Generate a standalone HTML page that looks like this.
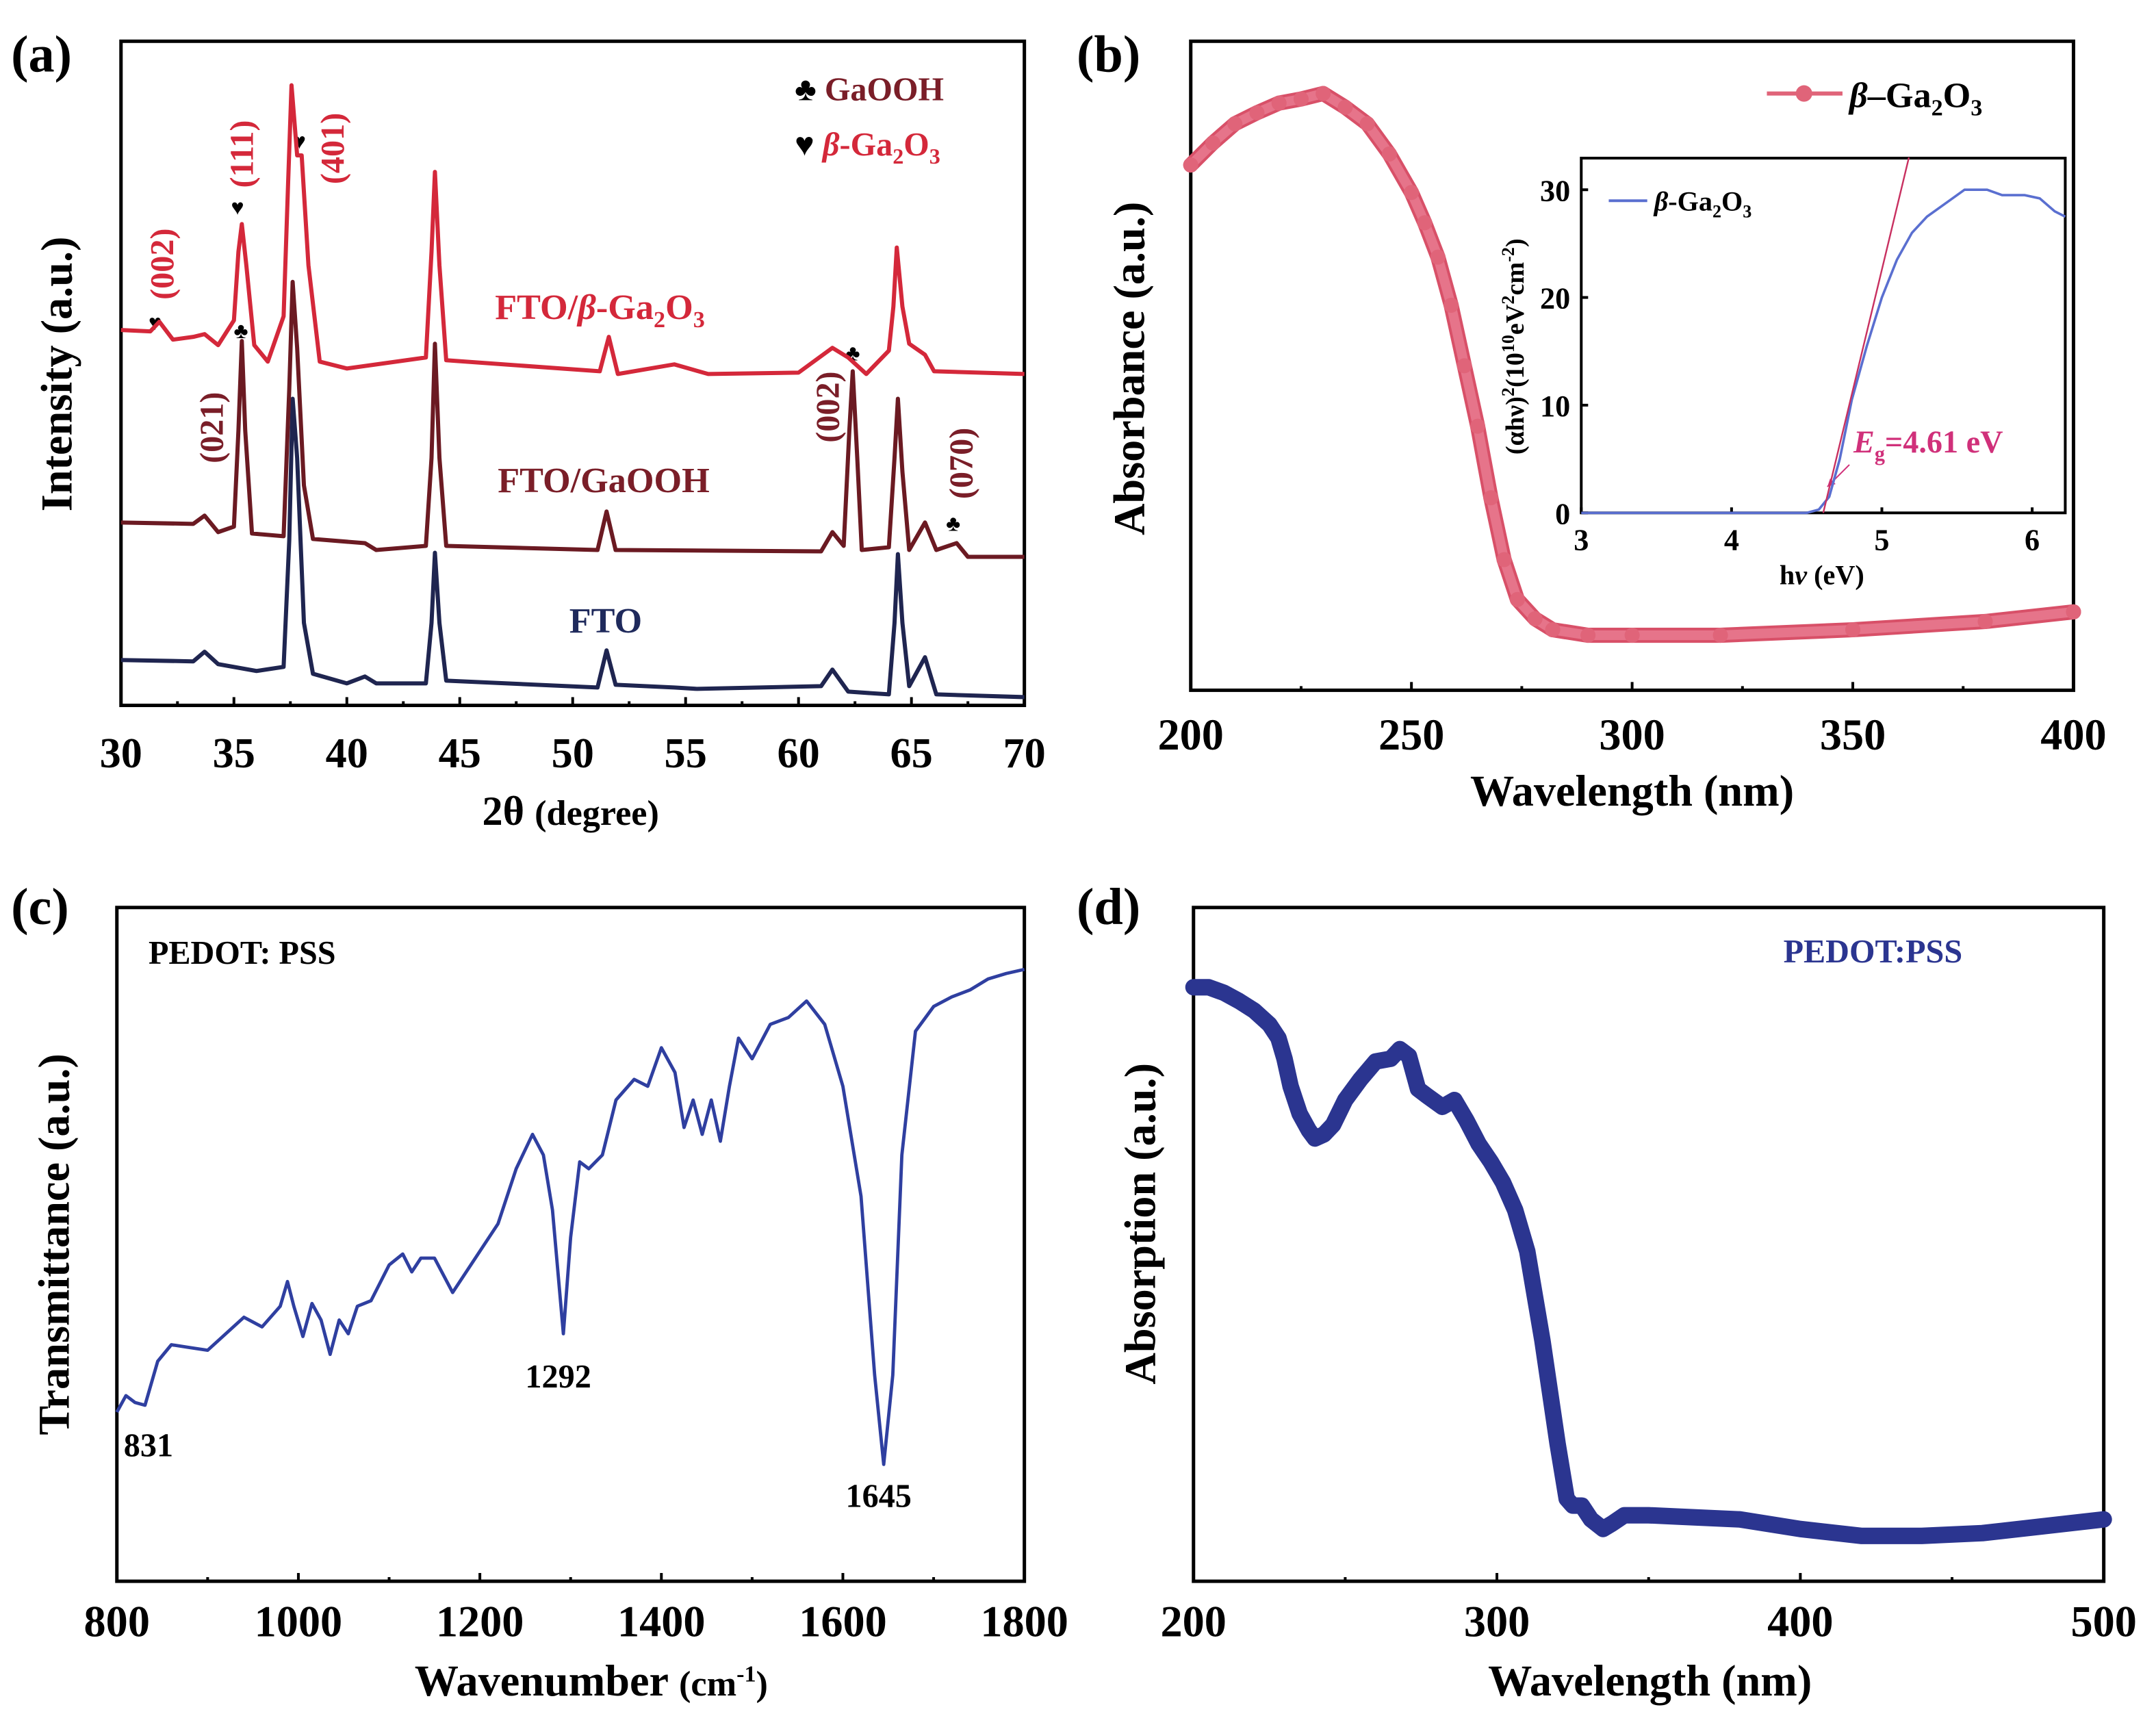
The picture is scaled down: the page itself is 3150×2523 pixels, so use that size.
<!DOCTYPE html>
<html><head><meta charset="utf-8"><style>
html,body{margin:0;padding:0;background:#fff;}
svg{display:block;}
text{font-family:"Liberation Serif",serif;font-weight:bold;}
</style></head><body>
<svg id="fig" width="3150" height="2523" viewBox="0 0 1568 1256" preserveAspectRatio="none" xmlns="http://www.w3.org/2000/svg">
<rect width="1568" height="1256" fill="#fff"/>
<g id="static">
<!-- panel a -->
<text x="8" y="52" font-size="38">(a)</text>
<rect x="88" y="30" width="657" height="483" fill="none" stroke="#000" stroke-width="2.5"/>
<text transform="translate(52,272) rotate(-90)" text-anchor="middle" font-size="32">Intensity (a.u.)</text>
<text x="415" y="600" text-anchor="middle" font-size="30">2θ <tspan font-size="26">(degree)</tspan></text>
<text x="578" y="73" font-size="24" fill="#7a1e28"><tspan fill="#000">♣</tspan> GaOOH</text>
<text x="578" y="113" font-size="24" fill="#d4283a"><tspan fill="#000">♥</tspan> <tspan font-style="italic">β</tspan>-Ga<tspan font-size="16" dy="6">2</tspan><tspan dy="-6">O</tspan><tspan font-size="16" dy="6">3</tspan></text>
<text x="360" y="232" font-size="26" fill="#d4283a">FTO/<tspan font-style="italic">β</tspan>-Ga<tspan font-size="17" dy="6">2</tspan><tspan dy="-6">O</tspan><tspan font-size="17" dy="6">3</tspan></text>
<text x="362" y="358" font-size="26" fill="#7a1e28">FTO/GaOOH</text>
<text x="414" y="460" font-size="26" fill="#1f2a5c">FTO</text>
<g font-size="24">
<text transform="translate(126,192) rotate(-90)" text-anchor="middle" fill="#d4283a">(002)</text>
<text transform="translate(184,112) rotate(-90)" text-anchor="middle" fill="#d4283a">(111)</text>
<text transform="translate(250,108) rotate(-90)" text-anchor="middle" fill="#d4283a">(401)</text>
<text transform="translate(162,311) rotate(-90)" text-anchor="middle" fill="#7a1e28">(021)</text>
<text transform="translate(610,296) rotate(-90)" text-anchor="middle" fill="#7a1e28">(002)</text>
<text transform="translate(707,337) rotate(-90)" text-anchor="middle" fill="#7a1e28">(070)</text>
</g>
<g font-size="16" fill="#000">
<text x="108" y="240">♥</text>
<text x="168" y="156">♥</text>
<text x="213" y="108">♥</text>
<text x="170" y="246">♣</text>
<text x="615" y="262">♣</text>
<text x="688" y="386">♣</text>
</g>
<!-- panel b -->
<text x="783" y="52" font-size="38">(b)</text>
<rect x="866" y="30" width="642" height="472" fill="none" stroke="#000" stroke-width="2.5"/>
<text transform="translate(832,268) rotate(-90)" text-anchor="middle" font-size="32">Absorbance (a.u.)</text>
<text x="1187" y="586" text-anchor="middle" font-size="32">Wavelength (nm)</text>
<line x1="1285" y1="68" x2="1340" y2="68" stroke="#e06479" stroke-width="3"/>
<circle cx="1312" cy="68" r="6" fill="#e06479"/>
<text x="1345" y="78" font-size="26"><tspan font-style="italic">β</tspan>–Ga<tspan font-size="17" dy="6">2</tspan><tspan dy="-6">O</tspan><tspan font-size="17" dy="6">3</tspan></text>
<rect x="1150" y="115" width="352" height="258" fill="#fff" stroke="#000" stroke-width="2"/>
<text transform="translate(1108,252) rotate(-90)" text-anchor="middle" font-size="19">(αhν)<tspan font-size="13" dy="-7">2</tspan><tspan dy="7">(10</tspan><tspan font-size="13" dy="-7">10</tspan><tspan dy="7">eV</tspan><tspan font-size="13" dy="-7">2</tspan><tspan dy="7">cm</tspan><tspan font-size="13" dy="-7">-2</tspan><tspan dy="7">)</tspan></text>
<text x="1325" y="425" text-anchor="middle" font-size="20">h<tspan font-style="italic">ν</tspan> (eV)</text>
<line x1="1170" y1="146" x2="1198" y2="146" stroke="#5a6fd0" stroke-width="2"/>
<text x="1203" y="153" font-size="20"><tspan font-style="italic">β</tspan>-Ga<tspan font-size="13" dy="5">2</tspan><tspan dy="-5">O</tspan><tspan font-size="13" dy="5">3</tspan></text>
<text x="1348" y="329" font-size="23" fill="#d0307a"><tspan font-style="italic">E</tspan><tspan font-size="15" dy="6">g</tspan><tspan dy="-6">=4.61 eV</tspan></text>
<line x1="1345" y1="338" x2="1329" y2="354" stroke="#d0307a" stroke-width="1"/>
<path d="M1329 354 l2 -6 l4 4 z" fill="#d0307a"/>
<!-- panel c -->
<text x="8" y="672" font-size="38">(c)</text>
<rect x="85" y="660" width="660" height="490" fill="none" stroke="#000" stroke-width="2.5"/>
<text transform="translate(50,905) rotate(-90)" text-anchor="middle" font-size="32">Transmittance (a.u.)</text>
<text x="430" y="1233" text-anchor="middle" font-size="32">Wavenumber <tspan font-size="26">(cm</tspan><tspan font-size="17" dy="-10">-1</tspan><tspan font-size="26" dy="10">)</tspan></text>
<text x="108" y="701" font-size="24">PEDOT: PSS</text>
<text x="90" y="1059" font-size="24">831</text>
<text x="382" y="1009" font-size="24">1292</text>
<text x="615" y="1096" font-size="24">1645</text>
<!-- panel d -->
<text x="783" y="672" font-size="38">(d)</text>
<rect x="868" y="660" width="662" height="490" fill="none" stroke="#000" stroke-width="2.5"/>
<text transform="translate(840,890) rotate(-90)" text-anchor="middle" font-size="32">Absorption (a.u.)</text>
<text x="1200" y="1233" text-anchor="middle" font-size="32">Wavelength (nm)</text>
<text x="1297" y="700" font-size="24" fill="#2b3590">PEDOT:PSS</text>
</g>
<g id="dyn"></g>
</svg>
<script>
// ---- panel a data (2θ, intensity a.u.) ----
const aFtoX=[30,33.2,33.7,34.3,36,37.2,37.45,37.6,37.8,38.1,38.5,40,40.8,41.3,43.5,43.75,43.9,44.1,44.4,51.1,51.5,51.9,54.5,55.5,61,61.5,62.2,64.0,64.25,64.4,64.6,64.9,65.6,66.1,70];
const aFtoY=[33,32,39,30,25,28,120,223,180,60,23,16,21,16,16,60,111,60,18,13,40,15,13,12,14,26,10,8,60,110,60,14,35,8,6];
const aGaX=[30,33.2,33.7,34.3,35.0,35.2,35.35,35.5,35.8,37.2,37.45,37.6,37.8,38.1,38.5,40.8,41.3,43.5,43.75,43.9,44.1,44.4,51.1,51.5,51.9,61,61.5,62.0,62.25,62.4,62.6,62.8,64.0,64.25,64.4,64.6,64.9,65.6,66.1,67,67.5,70];
const aGaY=[133,132,138,126,130,200,265,200,125,123,230,308,260,160,121,118,113,116,180,263,180,116,113,141,113,112,126,116,200,243,180,113,115,180,223,170,113,133,113,118,108,108];
const aRedX=[30,31.3,31.7,32.3,33.2,33.7,34.3,35.0,35.2,35.35,35.55,35.9,36.5,37.2,37.4,37.55,37.8,38.0,38.3,38.8,40,43.5,43.75,43.9,44.1,44.4,51.2,51.6,52,54.5,56,60,61.5,62.2,63,64.0,64.2,64.35,64.6,64.9,65.6,66,70];
const aRedY=[273,272,279,266,268,270,262,280,330,350,320,262,250,283,380,451,400,400,320,250,245,253,330,388,320,251,243,268,241,248,241,242,260,253,241,258,290,333,290,263,255,243,241];
// ---- panel b ----
const bX=[200,205,210,215,220,225,230,235,240,245,250,253,256,259,262,265,268,271,274,278,282,290,300,320,350,380,400];
const bY=[382,398,412,420,427,430,434,424,412,390,362,340,315,280,236,192,140,95,66,52,44,40,40,40,44,50,57];
const insX=[3.0,4.4,4.5,4.58,4.65,4.72,4.8,4.9,5.0,5.1,5.2,5.3,5.45,5.55,5.7,5.8,5.95,6.05,6.15,6.22];
const insY=[0,0,0,0.3,1.5,5,10.5,15.5,20,23.5,26,27.5,29,30,30,29.5,29.5,29.2,28,27.5];
const tanX=[4.61,5.18];
const tanY=[0,33];
// ---- panel c ----
const cX=[800,810,820,831,845,860,880,900,920,940,960,980,988,995,1005,1015,1025,1035,1045,1055,1065,1080,1100,1115,1125,1135,1150,1170,1185,1200,1220,1240,1258,1270,1280,1292,1300,1310,1320,1335,1350,1370,1385,1400,1415,1425,1435,1445,1455,1465,1475,1485,1500,1520,1540,1560,1580,1600,1620,1635,1645,1655,1665,1680,1700,1720,1740,1760,1780,1800];
const cYpx=[1027,1015,1020,1022,990,978,980,982,970,958,965,950,932,950,972,948,960,985,960,970,950,946,920,912,925,915,915,940,925,910,890,850,825,840,880,970,900,845,850,840,800,785,790,762,780,820,800,825,800,830,790,755,770,745,740,728,745,790,870,1000,1065,1000,840,750,732,725,720,712,708,705];
// ---- panel d ----
const dX=[200,205,210,215,220,225,228,230,232,235,238,240,243,246,250,255,260,265,268,271,274,277,282,286,290,294,298,302,306,310,315,320,323,325,328,331,335,338,342,350,360,380,400,420,440,460,480,500];
const dYpx=[718,718,722,728,735,745,755,770,790,810,822,828,825,818,800,785,772,770,763,768,792,797,805,800,815,832,845,860,880,910,975,1050,1090,1095,1095,1105,1112,1108,1102,1102,1103,1105,1112,1117,1117,1115,1110,1105];
// tick labels
const aTicks=[30,35,40,45,50,55,60,65,70];
const bTicks=[200,250,300,350,400];
const insXT=[3,4,5,6];
const insYT=[0,10,20,30];
const cTicks=[800,1000,1200,1400,1600,1800];
const dTicks=[200,300,400,500];

const NS='http://www.w3.org/2000/svg';
const dyn=document.getElementById('dyn');
function lin(d0,d1,r0,r1){return v=>r0+(v-d0)*(r1-r0)/(d1-d0);}
function mk(tag,attrs){const e=document.createElementNS(NS,tag);for(const k in attrs)e.setAttribute(k,attrs[k]);dyn.appendChild(e);return e;}
function path(xs,ys,sx,sy){return xs.map((x,i)=>(i?'L':'M')+sx(x).toFixed(2)+' '+sy(ys[i]).toFixed(2)).join(' ');}
function xticks(ticks,sx,yb,len,labY,fs,minor){
  ticks.forEach(t=>{
    const l=mk('line',{x1:sx(t),x2:sx(t),y1:yb,y2:yb-len,stroke:'#000','stroke-width':2});
    
    
    const tx=mk('text',{x:sx(t),y:labY,'text-anchor':'middle','font-size':fs});
    tx.textContent=t;
    
    
  });
  if(minor){for(let i=0;i<ticks.length-1;i++){const m=(ticks[i]+ticks[i+1])/2;
    const l=mk('line',{x1:sx(m),x2:sx(m),y1:yb,y2:yb-len/2,stroke:'#000','stroke-width':2});
    
    }}
}
// panel a
const ax=lin(30,70,88,745), ay=lin(0,483,513,30);
xticks(aTicks,ax,513,6,558,31,true);
[[aFtoX,aFtoY,'#1f2550','xrd-fto'],[aGaX,aGaY,'#6b1a22','xrd-fto-gaooh'],[aRedX,aRedY,'#d4283a','xrd-fto-ga2o3']].forEach(s=>{
  const p=mk('path',{d:path(s[0],s[1],ax,ay),fill:'none',stroke:s[2],'stroke-width':3,'stroke-linejoin':'round'});
  
  
});
// panel b
const bx=lin(200,400,866,1508), by=lin(0,472,502,30);
xticks(bTicks,bx,502,6,545,32,true);
const bp=mk('path',{d:path(bX,bY,bx,by),fill:'none',stroke:'#d85068','stroke-width':11,'stroke-linejoin':'round','stroke-linecap':'round'});


const bp2=mk('path',{d:path(bX,bY,bx,by),fill:'none',stroke:'#e6748a','stroke-width':7,'stroke-linejoin':'round','stroke-linecap':'round'});


bX.forEach((x,i)=>{const c=mk('circle',{cx:bx(x),cy:by(bY[i]),r:5.5,fill:'#e06479'});
  
  });
// inset
const ix=lin(3,6.22,1150,1502), iy=lin(0,30,373,138);
insXT.forEach(t=>{const l=mk('line',{x1:ix(t),x2:ix(t),y1:373,y2:369,stroke:'#000','stroke-width':2});
  
  
  const tx=mk('text',{x:ix(t),y:400,'text-anchor':'middle','font-size':22});tx.textContent=t;
  
  });
insYT.forEach(t=>{const l=mk('line',{x1:1150,x2:1155,y1:iy(t),y2:iy(t),stroke:'#000','stroke-width':2});
  
  
  const tx=mk('text',{x:1142,y:iy(t)+8,'text-anchor':'end','font-size':22});tx.textContent=t;
  
  });
const ip=mk('path',{d:path(insX,insY,ix,iy),fill:'none',stroke:'#5a6fd0','stroke-width':1.8});


const tp=mk('path',{d:path(tanX,tanY,ix,iy),fill:'none',stroke:'#c83060','stroke-width':1.2});


// panel c
const cx=lin(800,1800,85,745);
xticks(cTicks,cx,1150,6,1190,32,true);
const cp=mk('path',{d:path(cX,cYpx,cx,v=>v),fill:'none',stroke:'#2f3fa0','stroke-width':2.4,'stroke-linejoin':'round'});


// panel d
const dx=lin(200,500,868,1530);
xticks(dTicks,dx,1150,6,1190,32,true);
const dp=mk('path',{d:path(dX,dYpx,dx,v=>v),fill:'none',stroke:'#2b3590','stroke-width':12,'stroke-linejoin':'round','stroke-linecap':'round'});


</script>
</body></html>
